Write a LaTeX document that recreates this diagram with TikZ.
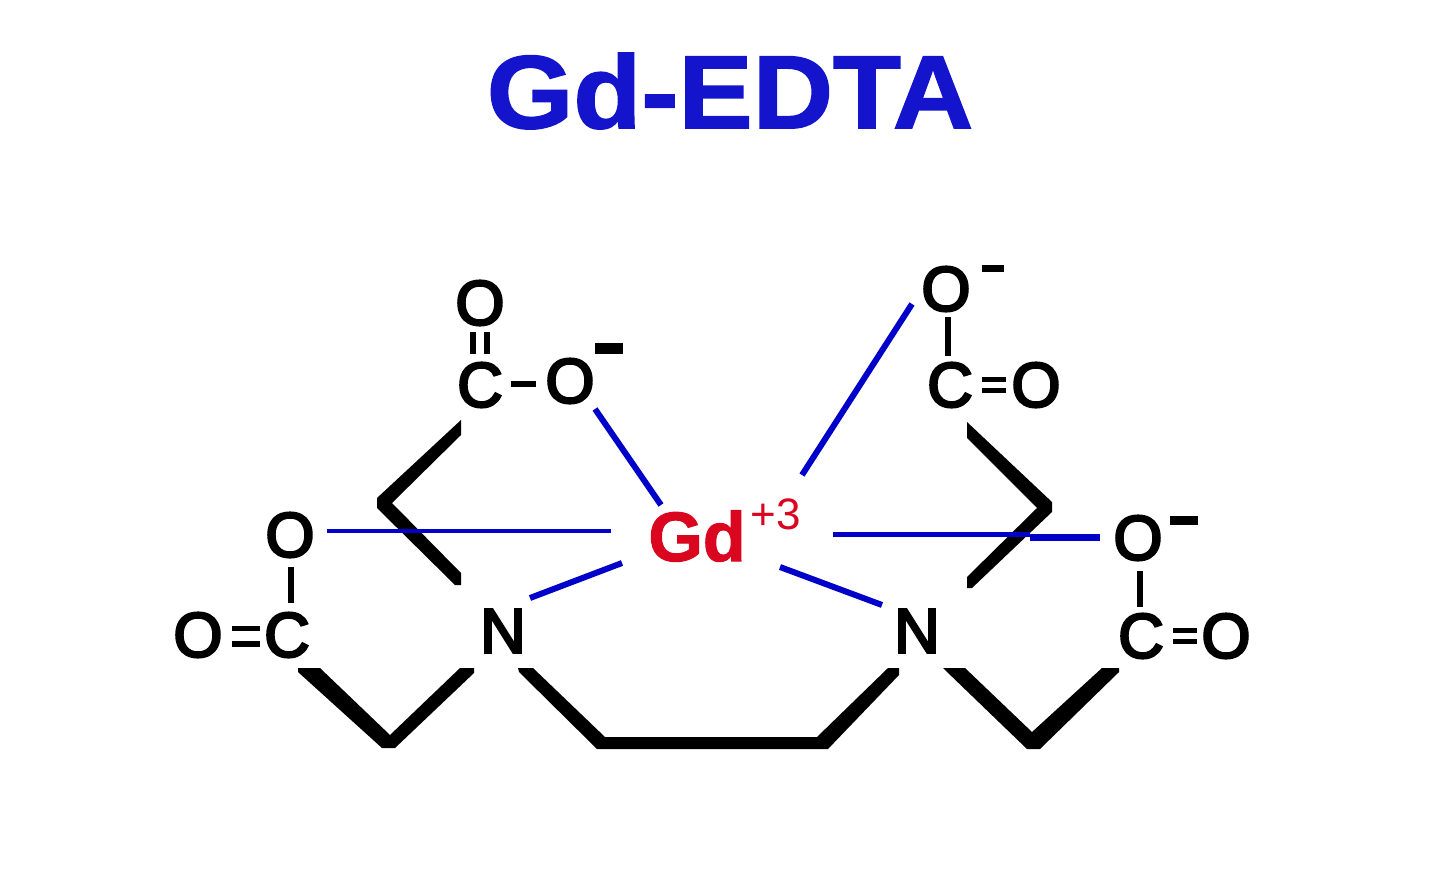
\documentclass[tikz,border=0pt]{standalone}
\usepackage{fontspec}
\setmainfont{Liberation Sans}
\newfontfamily\atomfont[FakeBold=4]{Liberation Sans}
\newfontfamily\gdfont[FakeBold=1.5]{Liberation Sans Bold}
\definecolor{tb}{RGB}{20,20,205}
\definecolor{lb}{RGB}{0,0,200}
\definecolor{gdred}{RGB}{218,5,30}
\tikzset{
 atom/.style={inner sep=0pt,font=\atomfont\fontsize{63}{63}\selectfont,text=black},
 skeleton/.style={fill=black,draw=none},
 single/.style={line width=6pt,black},
 dbl/.style={line width=5pt,black},
 coord/.style={line width=6pt,lb},
 coordthin/.style={line width=3.5pt,lb}}
\begin{document}
\begin{tikzpicture}[x=1pt,y=-1pt]
\useasboundingbox (0,0) rectangle (1440,869);
\node[inner sep=0pt,text=tb,font=\gdfont\fontsize{104}{104}\selectfont,xscale=1.07] (title) at (730,91) {Gd-EDTA};
\node[atom] (O1) at (480,303) {O};
\node[atom] (C1) at (480,385) {C};
\node[atom] (O2) at (570,381) {O};
\node[atom] (O3) at (946,289) {O};
\node[atom] (C2) at (950,385) {C};
\node[atom] (O4) at (1036,385) {O};
\node[atom] (O5) at (290,535) {O};
\node[atom] (O6) at (198,635) {O};
\node[atom] (C3) at (287,635) {C};
\node[atom] (O7) at (1138,538) {O};
\node[atom] (C4) at (1141,636) {C};
\node[atom] (O8) at (1226,636) {O};
\node[atom] (N1) at (503,631) {N};
\node[atom] (N2) at (917,631) {N};
\node[inner sep=0pt,text=gdred,font=\gdfont\fontsize{70}{70}\selectfont] (Gd) at (697,536) {Gd};
\node[inner sep=0pt,text=gdred,font=\fontsize{44}{44}\selectfont] (sup3) at (776,514) {+3};
% charges
\fill (595,343) rectangle (623,354);
\fill (982,265) rectangle (1004,272);
\fill (1170,516) rectangle (1198,525);
% bonds to oxygen
\draw[single] (473,332) -- (473,354);
\draw[single] (487,332) -- (487,354);
\draw[single] (511,384) -- (536,384);
\draw[single] (948,317) -- (948,356);
\draw[dbl] (982,379) -- (1006,379);
\draw[dbl] (982,390) -- (1006,390);
\draw[single] (291,567) -- (291,603);
\draw[dbl] (232,628) -- (260,628);
\draw[single] (232,644) -- (260,644);
\draw[single] (1140,571) -- (1140,607);
\draw[dbl] (1173,630) -- (1197,630);
\draw[dbl] (1173,641) -- (1197,641);
% skeleton
\fill[skeleton] (461,420) -- (461,435) -- (392,503) -- (461,573) -- (461,585) -- (455,585) -- (377,508) -- (377,498) -- cycle;
\fill[skeleton] (967,422) -- (967,438) -- (1037,508) -- (967,577) -- (967,588) -- (972,588) -- (1052,512) -- (1052,502) -- cycle;
\fill[skeleton] (298,668) -- (320,668) -- (390,735) -- (460,668) -- (474,668) -- (474,673) -- (395,748) -- (382,748) -- (298,672) -- cycle;
\fill[skeleton] (518,668) -- (533,668) -- (605,737) -- (817,737) -- (888,668) -- (899,668) -- (899,675) -- (828,749) -- (597,749) -- (519,672) -- cycle;
\fill[skeleton] (943,668) -- (965,668) -- (1032,732) -- (1102,668) -- (1119,668) -- (1119,672) -- (1040,749) -- (1027,749) -- (945,670) -- cycle;
% coordination
\draw[coord] (595,409) -- (661,505);
\draw[coord] (912,304) -- (802,475);
\draw[coordthin] (327,531) -- (611,531);
\draw[coord,line width=5pt] (833,534) -- (1030,534);
\draw[coord,line width=7pt] (1030,537) -- (1100,537);
\draw[coord] (530,598) -- (622,563);
\draw[coord] (780,567) -- (882,605);
\end{tikzpicture}
\end{document}
